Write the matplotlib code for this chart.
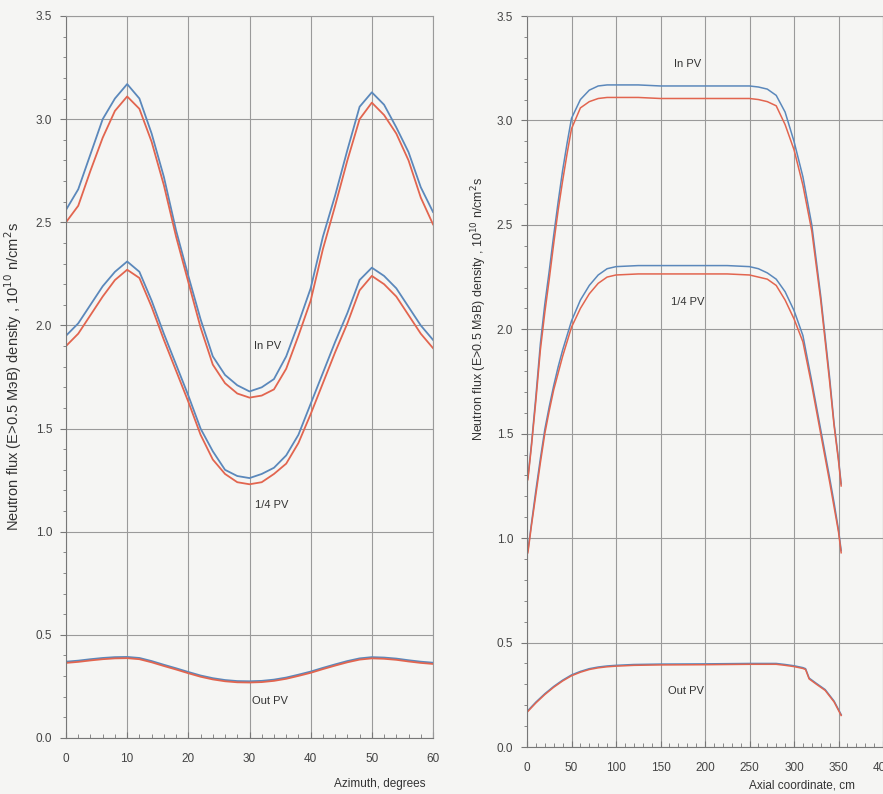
import matplotlib.pyplot as plt
from matplotlib.ticker import MultipleLocator

plt.rcParams['font.family'] = ['Liberation Sans', 'DejaVu Sans']

# ---- left panel: azimuthal distribution ----
azimuth = [0, 2, 4, 6, 8, 10, 12, 14, 16, 18, 20, 22, 24, 26, 28, 30,
           32, 34, 36, 38, 40, 42, 44, 46, 48, 50, 52, 54, 56, 58, 60]
az_in_blue = [2.56, 2.66, 2.83, 3.00, 3.10, 3.17, 3.10, 2.93, 2.72, 2.46, 2.24,
              2.03, 1.85, 1.76, 1.71, 1.68, 1.70, 1.74, 1.85, 2.01, 2.18, 2.43,
              2.63, 2.85, 3.06, 3.13, 3.07, 2.96, 2.84, 2.67, 2.55]
az_in_red = [2.50, 2.58, 2.75, 2.91, 3.04, 3.11, 3.05, 2.89, 2.68, 2.43, 2.21,
             1.99, 1.81, 1.72, 1.67, 1.65, 1.66, 1.69, 1.79, 1.95, 2.12, 2.37,
             2.58, 2.80, 3.00, 3.08, 3.02, 2.93, 2.80, 2.62, 2.49]
az_q_blue = [1.95, 2.01, 2.10, 2.19, 2.26, 2.31, 2.26, 2.12, 1.96, 1.81, 1.66,
             1.50, 1.39, 1.30, 1.27, 1.26, 1.28, 1.31, 1.37, 1.47, 1.62, 1.77,
             1.92, 2.06, 2.22, 2.28, 2.24, 2.18, 2.09, 2.00, 1.93]
az_q_red = [1.90, 1.96, 2.05, 2.14, 2.22, 2.27, 2.23, 2.09, 1.93, 1.78, 1.63,
            1.47, 1.35, 1.28, 1.24, 1.23, 1.24, 1.28, 1.33, 1.43, 1.57, 1.72,
            1.87, 2.01, 2.17, 2.24, 2.20, 2.14, 2.05, 1.96, 1.89]
az_out_blue = [0.370, 0.375, 0.382, 0.388, 0.392, 0.393, 0.388, 0.373, 0.355,
               0.338, 0.320, 0.303, 0.290, 0.281, 0.276, 0.275, 0.277, 0.283,
               0.293, 0.307, 0.322, 0.340, 0.357, 0.373, 0.386, 0.392, 0.390,
               0.385, 0.377, 0.370, 0.365]
az_out_red = [0.364, 0.369, 0.376, 0.382, 0.386, 0.387, 0.382, 0.367, 0.349,
              0.332, 0.314, 0.297, 0.284, 0.275, 0.270, 0.269, 0.271, 0.277,
              0.287, 0.301, 0.316, 0.334, 0.351, 0.367, 0.380, 0.386, 0.384,
              0.379, 0.371, 0.364, 0.359]

# ---- right panel: axial distribution ----
axial = [1, 5, 10, 15, 20, 25, 30, 35, 40, 45, 50, 60, 70, 80, 90, 100, 125,
         150, 175, 200, 225, 250, 260, 270, 280, 290, 300, 310, 320, 330, 340,
         345, 350, 353]
ax_in_blue = [1.29, 1.45, 1.68, 1.93, 2.12, 2.28, 2.45, 2.61, 2.76, 2.89, 3.01,
              3.10, 3.145, 3.165, 3.17, 3.17, 3.17, 3.165, 3.165, 3.165, 3.165,
              3.165, 3.16, 3.15, 3.12, 3.04, 2.90, 2.73, 2.50, 2.16, 1.77, 1.55,
              1.38, 1.26]
ax_in_red = [1.28, 1.44, 1.66, 1.90, 2.08, 2.24, 2.41, 2.57, 2.71, 2.84, 2.96,
             3.06, 3.09, 3.105, 3.11, 3.11, 3.11, 3.105, 3.105, 3.105, 3.105,
             3.105, 3.10, 3.09, 3.07, 2.98, 2.86, 2.69, 2.47, 2.14, 1.75, 1.54,
             1.37, 1.25]
ax_q_blue = [0.94, 1.07, 1.23, 1.38, 1.52, 1.63, 1.73, 1.82, 1.90, 1.97, 2.04,
             2.14, 2.21, 2.26, 2.29, 2.30, 2.305, 2.305, 2.305, 2.305, 2.305,
             2.30, 2.29, 2.27, 2.24, 2.18, 2.09, 1.97, 1.75, 1.52, 1.29, 1.17,
             1.04, 0.94]
ax_q_red = [0.93, 1.06, 1.21, 1.36, 1.50, 1.61, 1.71, 1.79, 1.87, 1.94, 2.01,
            2.10, 2.17, 2.22, 2.25, 2.26, 2.265, 2.265, 2.265, 2.265, 2.265,
            2.26, 2.25, 2.24, 2.21, 2.14, 2.05, 1.94, 1.73, 1.50, 1.27, 1.15,
            1.03, 0.93]
axial_out = [0, 10, 20, 30, 40, 50, 60, 70, 80, 90, 100, 120, 150, 200, 250,
             280, 290, 300, 310, 313, 317, 325, 335, 345, 353]
ax_out_blue = [0.170, 0.215, 0.255, 0.290, 0.320, 0.345, 0.362, 0.375, 0.383,
               0.388, 0.391, 0.395, 0.397, 0.398, 0.400, 0.400, 0.395, 0.389,
               0.380, 0.375, 0.330, 0.305, 0.275, 0.220, 0.155]
ax_out_red = [0.166, 0.211, 0.251, 0.286, 0.316, 0.341, 0.358, 0.371, 0.379,
              0.384, 0.387, 0.391, 0.393, 0.394, 0.396, 0.396, 0.391, 0.385,
              0.376, 0.371, 0.326, 0.301, 0.271, 0.216, 0.151]

blue = '#5b88bb'
red = '#e2654f'
bg = '#f5f5f3'
grid_c = '#9a9a9a'
ylabel = 'Neutron flux (E>0.5 МэВ) density , 10$^{10}$ n/cm$^{2}$s'

fig = plt.figure(figsize=(8.83, 7.94), dpi=100, facecolor=bg)
ax1 = fig.add_axes([66 / 883, 1 - 738 / 794, 367 / 883, 722 / 794])
ax2 = fig.add_axes([527 / 883, 1 - 747 / 794, 356 / 883, 731 / 794])

for ax in (ax1, ax2):
    ax.set_facecolor(bg)
    ax.set_ylim(0, 3.5)
    ax.yaxis.set_major_locator(MultipleLocator(0.5))
    ax.yaxis.set_minor_locator(MultipleLocator(0.1))
    ax.grid(True, which='major', color=grid_c, lw=0.8)
    ax.set_axisbelow(True)
    for s in ax.spines.values():
        s.set_color(grid_c)
        s.set_linewidth(0.8)
    ax.spines['left'].set_color('#777777')
    ax.spines['bottom'].set_color('#777777')
    ax.tick_params(axis='y', which='both', direction='out', colors='#777777',
                   labelcolor='#444444', labelsize=8.5, pad=6)
    ax.tick_params(axis='y', which='major', length=4)
    ax.tick_params(axis='y', which='minor', length=2.5)
    ax.tick_params(axis='x', which='both', direction='in', colors='#777777',
                   labelcolor='#444444', labelsize=8.5, pad=11)
    ax.tick_params(axis='x', which='major', length=4)
    ax.tick_params(axis='x', which='minor', length=3)

# left panel
ax1.plot(azimuth, az_in_blue, color=blue, lw=1.3)
ax1.plot(azimuth, az_in_red, color=red, lw=1.3)
ax1.plot(azimuth, az_q_blue, color=blue, lw=1.3)
ax1.plot(azimuth, az_q_red, color=red, lw=1.3)
ax1.plot(azimuth, az_out_blue, color=blue, lw=1.3)
ax1.plot(azimuth, az_out_red, color=red, lw=1.3)
ax1.set_xlim(0, 60)
ax1.xaxis.set_major_locator(MultipleLocator(10))
ax1.xaxis.set_minor_locator(MultipleLocator(2))
ax1.text(33, 1.90, 'In PV', fontsize=8, color='#333333', ha='center', va='center')
ax1.text(33.7, 1.13, '1/4 PV', fontsize=8, color='#333333', ha='center', va='center')
ax1.text(33.3, 0.18, 'Out PV', fontsize=8, color='#333333', ha='center', va='center')
ax1.set_xlabel('Azimuth, degrees', fontsize=8.5, color='#333333', ha='right')
ax1.xaxis.set_label_coords(0.98, -0.055)
ax1.set_ylabel(ylabel, fontsize=10.5, color='#333333')
ax1.yaxis.set_label_coords(-0.114, 0.50)

# right panel
ax2.plot(axial, ax_in_blue, color=blue, lw=1.1)
ax2.plot(axial, ax_in_red, color=red, lw=1.1)
ax2.plot(axial, ax_q_blue, color=blue, lw=1.1)
ax2.plot(axial, ax_q_red, color=red, lw=1.1)
ax2.plot(axial_out, ax_out_blue, color=blue, lw=1.1)
ax2.plot(axial_out, ax_out_red, color=red, lw=1.1)
ax2.set_xlim(0, 400)
ax2.xaxis.set_major_locator(MultipleLocator(50))
ax2.xaxis.set_minor_locator(MultipleLocator(10))
ax2.text(180, 3.27, 'In PV', fontsize=8, color='#333333', ha='center', va='center')
ax2.text(180, 2.13, '1/4 PV', fontsize=8, color='#333333', ha='center', va='center')
ax2.text(179, 0.27, 'Out PV', fontsize=8, color='#333333', ha='center', va='center')
ax2.set_xlabel('Axial coordinate, cm', fontsize=8.5, color='#333333', ha='right')
ax2.xaxis.set_label_coords(0.92, -0.045)
ax2.set_ylabel(ylabel, fontsize=9, color='#333333')
ax2.yaxis.set_label_coords(-0.107, 0.60)

fig.savefig('out.png', dpi=100, facecolor=bg)
